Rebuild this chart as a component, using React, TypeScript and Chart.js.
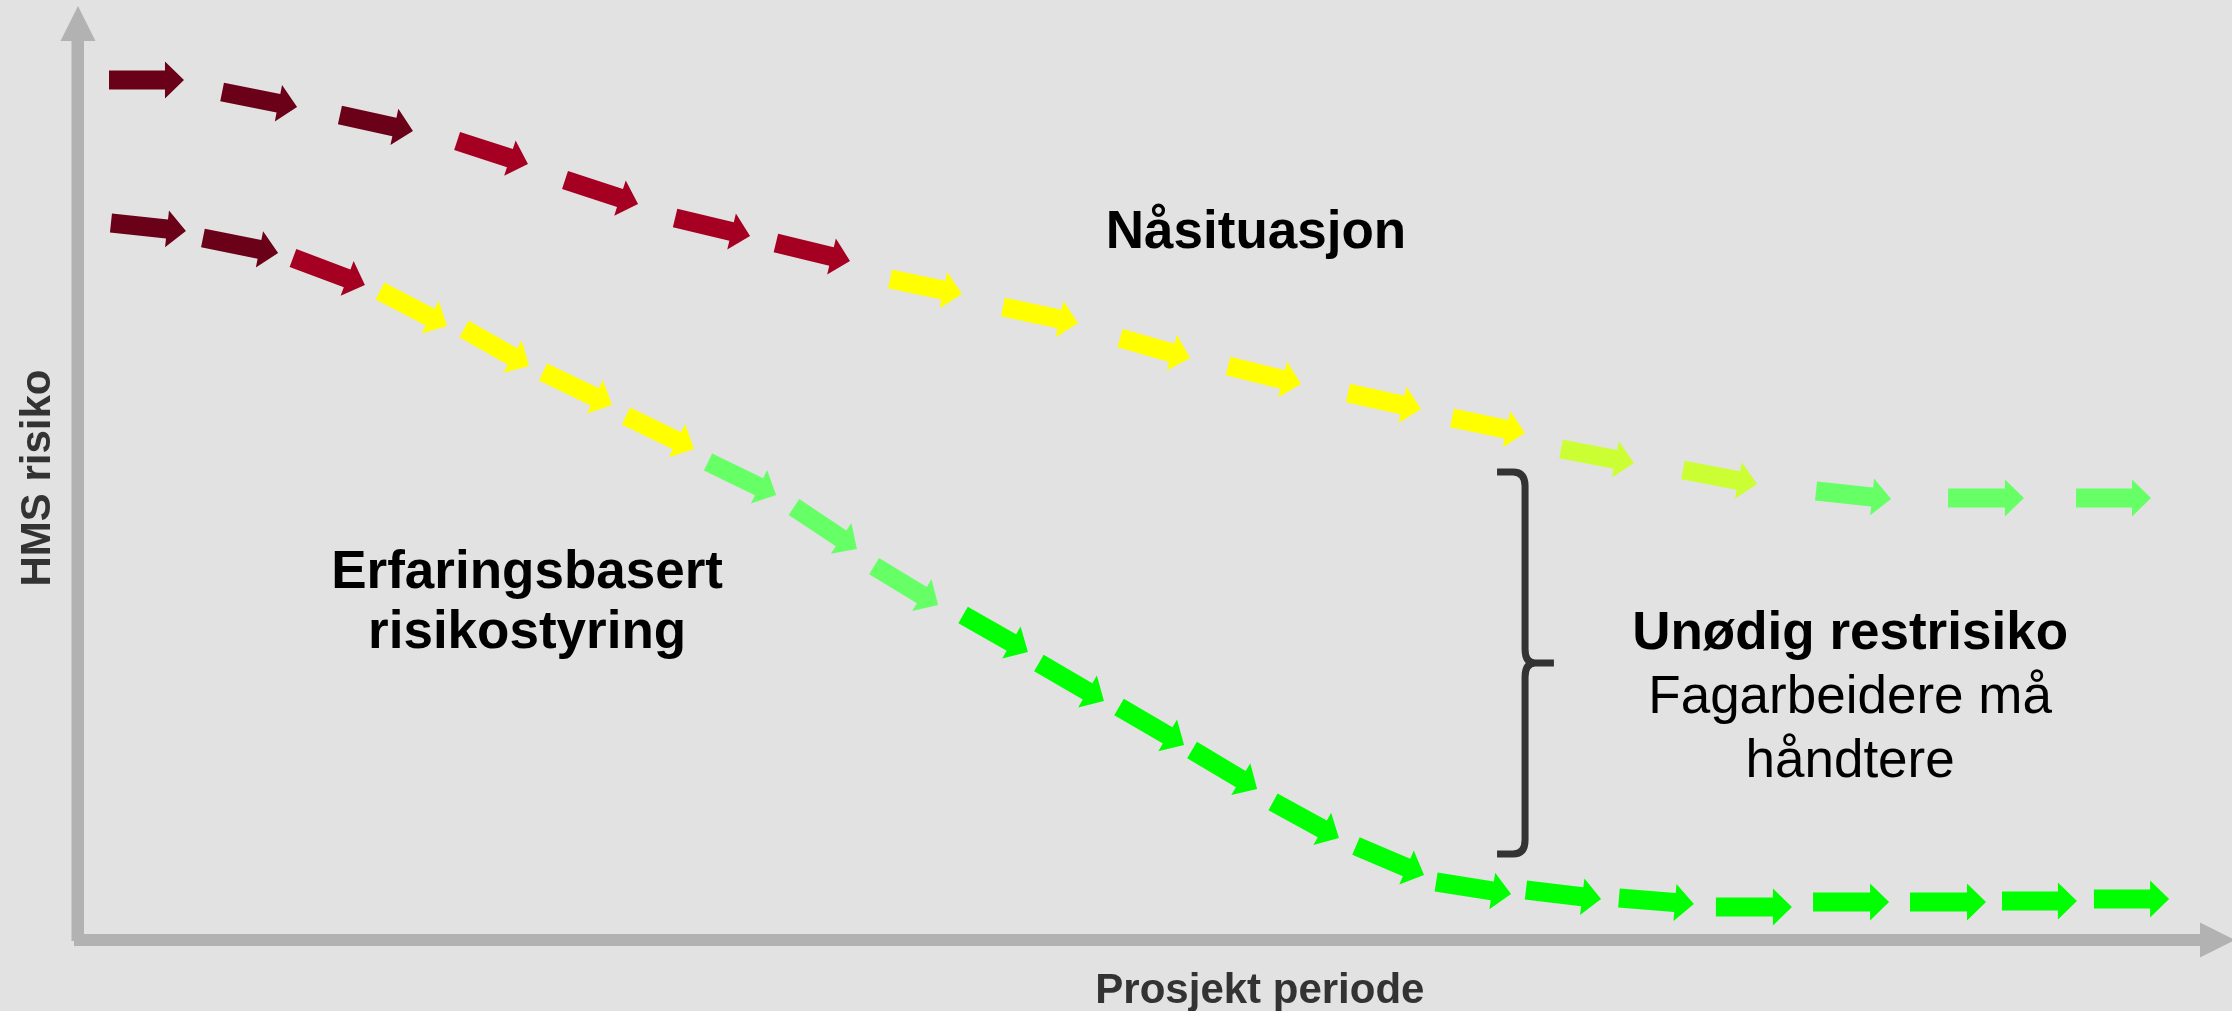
import { useEffect, useRef } from "react";
import { Chart, registerables } from "chart.js";

Chart.register(...registerables);

// ---- Data (x: prosjekt periode 0-100, y: HMS risiko 0-100) ----
// Nåsituasjon: each arrow goes from tail (x,y) to tip (x,y)
const nowTailX = [1.44, 6.69, 12.16, 17.6, 22.61, 27.72, 32.4, 37.7, 42.94, 48.38, 53.39, 58.96, 63.79, 68.85, 74.51, 80.69, 86.82, 92.76];
const nowTailY = [92.08, 90.79, 88.33, 85.55, 81.37, 77.3, 74.63, 70.77, 67.77, 64.45, 61.46, 58.57, 55.89, 52.57, 50.32, 48.07, 47.32, 47.32];
const nowTipX = [4.92, 10.17, 15.55, 20.89, 26.0, 31.2, 35.84, 41.04, 46.43, 51.63, 56.78, 62.35, 67.18, 72.24, 77.95, 84.17, 90.34, 96.24];
const nowTipY = [92.08, 89.19, 86.62, 83.08, 78.8, 75.37, 72.7, 69.16, 66.06, 62.31, 59.53, 56.85, 54.28, 51.07, 48.82, 47.22, 47.32, 47.32];
const nowStage = ["kritisk", "kritisk", "kritisk", "høy", "høy", "høy", "høy", "middels", "middels", "middels", "middels", "middels", "middels", "moderat", "moderat", "lav", "lav", "lav"];

// Erfaringsbasert risikostyring
const expTailX = [1.53, 5.8, 9.98, 14.02, 17.92, 21.59, 25.44, 29.25, 33.24, 36.96, 41.09, 44.61, 48.33, 51.72, 55.48, 59.33, 63.05, 67.22, 71.54, 76.04, 80.55, 85.05, 89.32, 93.59];
const expTailY = [76.77, 75.16, 73.02, 69.49, 65.42, 60.81, 56.1, 51.18, 46.36, 40.04, 34.8, 29.66, 24.95, 20.34, 14.78, 10.06, 6.21, 5.35, 4.5, 3.53, 4.07, 4.07, 4.18, 4.39];
const expTipX = [5.01, 9.29, 13.32, 17.13, 20.94, 24.79, 28.6, 32.41, 36.16, 39.93, 44.1, 47.63, 51.35, 54.74, 58.54, 62.49, 66.53, 70.71, 75.02, 79.57, 84.08, 88.58, 92.8, 97.08];
const expTipY = [75.91, 73.55, 70.13, 65.74, 61.46, 57.28, 52.57, 47.64, 41.86, 35.87, 30.84, 25.59, 20.88, 16.17, 10.92, 6.96, 4.93, 4.39, 3.85, 3.53, 4.07, 4.07, 4.18, 4.39];
const expStage = ["kritisk", "kritisk", "høy", "middels", "middels", "middels", "middels", "lav", "lav", "lav", "minimal", "minimal", "minimal", "minimal", "minimal", "minimal", "minimal", "minimal", "minimal", "minimal", "minimal", "minimal", "minimal", "minimal"];

// Labels
const seriesNames = ["Nåsituasjon", "Erfaringsbasert risikostyring"];
const xTitle = "Prosjekt periode";
const yTitle = "HMS risiko";
const gapTitle = "Unødig restrisiko";
const gapText = ["Fagarbeidere må", "håndtere"];

// ---- Styles ----
const stageColors: Record<string, string> = {
  kritisk: "#6B0019",
  "høy": "#A50021",
  middels: "#FFFF00",
  moderat: "#CCFF33",
  lav: "#66FF66",
  minimal: "#00FF00",
};
const BG = "#E2E2E2";
const AXIS = "#B2B2B2";
const FONT = '"Liberation Sans", Arial, Helvetica, sans-serif';

export default function App() {
  const ref = useRef<HTMLCanvasElement | null>(null);

  useEffect(() => {
    document.body.style.margin = "0";
    document.body.style.background = BG;
    const canvas = ref.current;
    if (!canvas) return;

    const tips = [
      { x: nowTipX, y: nowTipY, stage: nowStage },
      { x: expTipX, y: expTipY, stage: expStage },
    ];

    const arrowPlugin = {
      id: "arrowMarks",
      beforeDraw(chart: any) {
        const { ctx, width, height } = chart;
        ctx.save();
        ctx.fillStyle = BG;
        ctx.fillRect(0, 0, width, height);
        ctx.restore();
      },
      afterDatasetsDraw(chart: any) {
        const { ctx, chartArea } = chart;
        const xs = chart.scales.x;
        const ys = chart.scales.y;
        const left = chartArea.left;
        const top = chartArea.top;
        const right = chartArea.right;
        const bottom = chartArea.bottom;

        ctx.save();
        // axes
        ctx.fillStyle = AXIS;
        const ax = xs.getPixelForValue(0);
        const ay = ys.getPixelForValue(0);
        ctx.fillRect(ax - 6.5, top + 35, 12.5, ay - top - 35 + 1);
        ctx.beginPath();
        ctx.moveTo(ax, top);
        ctx.lineTo(ax + 17.5, top + 35);
        ctx.lineTo(ax - 17.5, top + 35);
        ctx.closePath();
        ctx.fill();
        ctx.fillRect(ax - 4, ay - 6, right - 32 - (ax - 4), 12);
        ctx.beginPath();
        ctx.moveTo(right + 3, ay);
        ctx.lineTo(right - 32, ay - 17.5);
        ctx.lineTo(right - 32, ay + 17.5);
        ctx.closePath();
        ctx.fill();

        // arrows
        const shaftHalf = 9.5;
        const headLen = 19;
        const headHalf = 18.5;
        chart.data.datasets.forEach((ds: any, di: number) => {
          const meta = chart.getDatasetMeta(di);
          const t = tips[di];
          meta.data.forEach((el: any, i: number) => {
            const x0 = el.x;
            const y0 = el.y;
            const x1 = xs.getPixelForValue(t.x[i]);
            const y1 = ys.getPixelForValue(t.y[i]);
            const len = Math.hypot(x1 - x0, y1 - y0);
            const dx = (x1 - x0) / len;
            const dy = (y1 - y0) / len;
            const nx = -dy;
            const ny = dx;
            const bx = x1 - dx * headLen;
            const by = y1 - dy * headLen;
            ctx.fillStyle = stageColors[t.stage[i]];
            ctx.beginPath();
            ctx.moveTo(x0 + nx * shaftHalf, y0 + ny * shaftHalf);
            ctx.lineTo(bx + nx * shaftHalf, by + ny * shaftHalf);
            ctx.lineTo(bx + nx * headHalf, by + ny * headHalf);
            ctx.lineTo(x1, y1);
            ctx.lineTo(bx - nx * headHalf, by - ny * headHalf);
            ctx.lineTo(bx - nx * shaftHalf, by - ny * shaftHalf);
            ctx.lineTo(x0 - nx * shaftHalf, y0 - ny * shaftHalf);
            ctx.closePath();
            ctx.fill();
          });
        });

        const P = (x: number, y: number) => [xs.getPixelForValue(x), ys.getPixelForValue(y)];

        // bracket
        const [bxL, bTop] = P(65.88, 50.11);
        const [bxV, bBot] = P(67.18, 9.21);
        const [bxN, bMid] = P(68.52, 29.66);
        ctx.strokeStyle = "#333333";
        ctx.lineWidth = 7;
        ctx.lineJoin = "round";
        ctx.beginPath();
        ctx.moveTo(bxL, bTop);
        ctx.lineTo(bxV - 12, bTop);
        ctx.quadraticCurveTo(bxV, bTop, bxV, bTop + 14);
        ctx.lineTo(bxV, bMid - 14);
        ctx.quadraticCurveTo(bxV, bMid, bxV + 10, bMid);
        ctx.lineTo(bxN, bMid);
        ctx.moveTo(bxV + 10, bMid);
        ctx.quadraticCurveTo(bxV, bMid, bxV, bMid + 14);
        ctx.lineTo(bxV, bBot - 14);
        ctx.quadraticCurveTo(bxV, bBot, bxV - 12, bBot);
        ctx.lineTo(bxL, bBot);
        ctx.stroke();

        // texts
        ctx.textAlign = "center";
        ctx.textBaseline = "alphabetic";
        ctx.fillStyle = "#000000";
        ctx.font = `bold 53px ${FONT}`;
        let p = P(54.69, 74.09);
        ctx.fillText(seriesNames[0], p[0], p[1]);
        const words = seriesNames[1].split(" ");
        p = P(20.85, 37.69);
        ctx.fillText(words[0], p[0], p[1]);
        p = P(20.85, 31.26);
        ctx.fillText(words[1], p[0], p[1]);
        p = P(82.27, 31.16);
        ctx.fillText(gapTitle, p[0], p[1]);
        ctx.font = `53px ${FONT}`;
        p = P(82.27, 24.3);
        ctx.fillText(gapText[0], p[0], p[1]);
        p = P(82.27, 17.45);
        ctx.fillText(gapText[1], p[0], p[1]);

        ctx.fillStyle = "#333333";
        ctx.font = `bold 42px ${FONT}`;
        p = P(54.87, -6.75);
        ctx.fillText(xTitle, p[0], p[1]);
        p = P(-1.3, 49.46);
        ctx.translate(p[0], p[1]);
        ctx.rotate(-Math.PI / 2);
        ctx.fillText(yTitle, 0, 0);
        ctx.restore();
        void left; void bottom;
      },
    };

    const chart = new Chart(canvas, {
      type: "scatter",
      data: {
        datasets: [
          {
            label: seriesNames[0],
            data: nowTailX.map((x, i) => ({ x, y: nowTailY[i] })),
            pointRadius: 0,
            showLine: false,
          },
          {
            label: seriesNames[1],
            data: expTailX.map((x, i) => ({ x, y: expTailY[i] })),
            pointRadius: 0,
            showLine: false,
          },
        ],
      },
      options: {
        responsive: false,
        animation: false,
        devicePixelRatio: 1,
        layout: { padding: { left: 78, right: 0, top: 6, bottom: 71 } },
        scales: {
          x: { type: "linear", min: 0, max: 100, display: false },
          y: { type: "linear", min: 0, max: 100, display: false },
        },
        plugins: {
          legend: { display: false },
          tooltip: { enabled: false },
        },
        events: [],
      },
      plugins: [arrowPlugin],
    } as any);

    return () => chart.destroy();
  }, []);

  return (
    <div style={{ width: 2232, height: 1011, background: BG }}>
      <canvas ref={ref} width={2232} height={1011} style={{ display: "block", width: 2232, height: 1011 }} />
    </div>
  );
}
